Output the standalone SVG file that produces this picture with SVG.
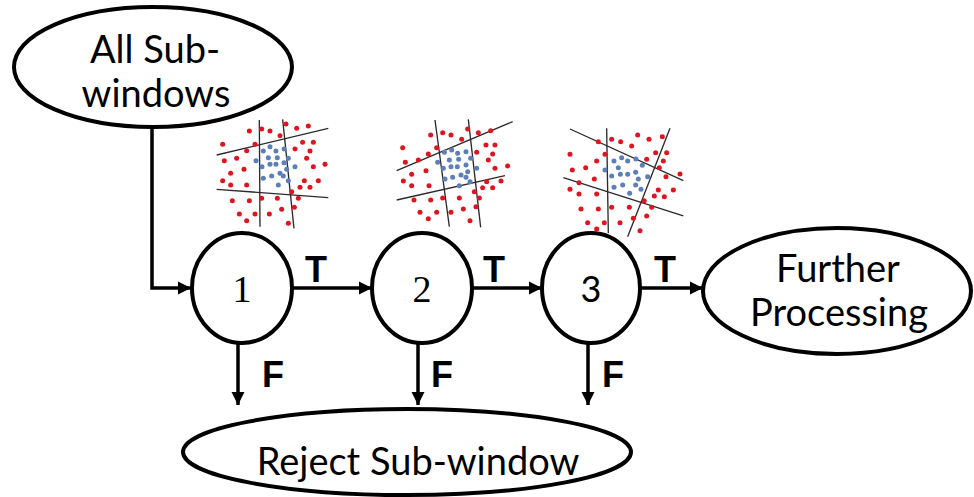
<svg xmlns="http://www.w3.org/2000/svg" width="974" height="497" viewBox="0 0 974 497">
  <style>
    .node { fill: #fff; stroke: #000; stroke-width: 4; }
    .lbl { font-family: Lato, "Liberation Sans", sans-serif; font-size: 38px; fill: #000; text-anchor: middle; }
    .num { font-family: "Liberation Serif", serif; font-size: 38px; fill: #000; text-anchor: middle; }
    .num-sans { font-family: Lato, "Liberation Sans", sans-serif; font-size: 36px; fill: #000; text-anchor: middle; }
    .tf { font-family: "Liberation Sans", Arial, sans-serif; font-weight: bold; font-size: 36px; fill: #000; }
    .edge { fill: none; stroke: #000; stroke-width: 3.5; marker-end: url(#arrow); }
    .r circle { fill: #e0141e; r: 7.5px; }
    .b circle { fill: #5b7fba; r: 7.5px; }
    .sep { stroke: #2a2a2a; stroke-width: 4; fill: none; }
  </style>
  <defs>
    <marker id="arrow" markerUnits="userSpaceOnUse" markerWidth="14" markerHeight="14" refX="13" refY="7" orient="auto">
      <path d="M0,0.5 L13,7 L0,13.5 Z" fill="#000"/>
    </marker>
  </defs>

  <rect width="974" height="497" fill="#fff"/>

  <!-- connectors and their T / F labels -->
  <g id="connectors">
    <path class="edge" d="M152,128 V288 H191"/>
    <path class="edge" d="M292,288 H372"/>
    <path class="edge" d="M472,288 H542"/>
    <path class="edge" d="M640,288 H703"/>
    <path class="edge" d="M238,342 V405"/>
    <path class="edge" d="M418,343 V405"/>
    <path class="edge" d="M588,343 V405"/>
    <text class="tf" x="305" y="282">T</text>
    <text class="tf" x="483" y="282">T</text>
    <text class="tf" x="654" y="282">T</text>
    <text class="tf" x="262" y="387" font-size="33">F</text>
    <text class="tf" x="431" y="387" font-size="33">F</text>
    <text class="tf" x="602" y="387" font-size="33">F</text>
  </g>

  <g id="all-subwindows">
    <ellipse class="node" cx="153" cy="67" rx="139" ry="60"/>
    <text class="lbl" x="155" y="63">All Sub-</text>
    <text class="lbl" x="156" y="107">windows</text>
  </g>

  <g id="stage-1">
    <ellipse class="node" cx="242" cy="288" rx="50" ry="55"/>
    <text class="num" x="242" y="302">1</text>
  </g>
  <g id="stage-2">
    <ellipse class="node" cx="422" cy="288" rx="50" ry="55"/>
    <text class="num" x="422" y="302">2</text>
  </g>
  <g id="stage-3">
    <ellipse class="node" cx="591" cy="288" rx="49" ry="55"/>
    <text class="num-sans" x="591" y="302">3</text>
  </g>

  <g id="further-processing">
    <ellipse class="node" cx="837" cy="291" rx="134" ry="63"/>
    <text class="lbl" x="838" y="282">Further</text>
    <text class="lbl" x="839" y="326">Processing</text>
  </g>

  <g id="reject">
    <ellipse class="node" cx="407" cy="452" rx="224" ry="43"/>
    <text class="lbl" x="418" y="475" font-size="36">Reject Sub-window</text>
  </g>

  <!-- scatter 1 -->
  <g id="scatter-1" transform="translate(200,110) scale(0.3333)">
    <line class="sep" x1="178" y1="30" x2="180" y2="350"/>
    <line class="sep" x1="248" y1="28" x2="282" y2="355"/>
    <line class="sep" x1="50" y1="135" x2="385" y2="55"/>
    <line class="sep" x1="50" y1="238" x2="385" y2="263"/>
    <g class="r">
      <circle cx="148" cy="63"/><circle cx="185" cy="57"/><circle cx="210" cy="63"/><circle cx="258" cy="42"/>
      <circle cx="290" cy="55"/><circle cx="325" cy="48"/><circle cx="240" cy="77"/><circle cx="68" cy="103"/>
      <circle cx="165" cy="103"/><circle cx="140" cy="122"/><circle cx="308" cy="97"/><circle cx="340" cy="97"/>
      <circle cx="285" cy="117"/><circle cx="330" cy="123"/><circle cx="73" cy="152"/><circle cx="110" cy="145"/>
      <circle cx="320" cy="145"/><circle cx="340" cy="170"/><circle cx="375" cy="163"/><circle cx="132" cy="178"/>
      <circle cx="92" cy="190"/><circle cx="68" cy="212"/><circle cx="92" cy="225"/><circle cx="140" cy="225"/>
      <circle cx="313" cy="212"/><circle cx="355" cy="212"/><circle cx="300" cy="232"/><circle cx="330" cy="232"/>
      <circle cx="275" cy="245"/><circle cx="97" cy="272"/><circle cx="148" cy="272"/><circle cx="185" cy="265"/>
      <circle cx="232" cy="265"/><circle cx="295" cy="265"/><circle cx="245" cy="298"/><circle cx="283" cy="292"/>
      <circle cx="118" cy="312"/><circle cx="165" cy="312"/><circle cx="208" cy="312"/><circle cx="140" cy="332"/>
      <circle cx="265" cy="340"/>
    </g>
    <g class="b">
      <circle cx="190" cy="123"/><circle cx="210" cy="110"/><circle cx="228" cy="123"/><circle cx="252" cy="117"/>
      <circle cx="205" cy="143"/><circle cx="232" cy="143"/><circle cx="265" cy="145"/><circle cx="168" cy="152"/>
      <circle cx="186" cy="170"/><circle cx="210" cy="163"/><circle cx="228" cy="163"/><circle cx="252" cy="158"/>
      <circle cx="285" cy="170"/><circle cx="260" cy="178"/><circle cx="240" cy="190"/><circle cx="190" cy="205"/>
      <circle cx="215" cy="198"/><circle cx="250" cy="198"/><circle cx="265" cy="212"/><circle cx="235" cy="225"/>
    </g>
  </g>

  <!-- scatter 2 -->
  <g id="scatter-2" transform="translate(380,110) scale(0.3333)">
    <line class="sep" x1="165" y1="30" x2="208" y2="350"/>
    <line class="sep" x1="265" y1="28" x2="302" y2="352"/>
    <line class="sep" x1="50" y1="182" x2="398" y2="35"/>
    <line class="sep" x1="50" y1="270" x2="375" y2="197"/>
    <g class="r">
      <circle cx="152" cy="75"/><circle cx="188" cy="68"/><circle cx="213" cy="75"/><circle cx="263" cy="57"/>
      <circle cx="295" cy="68"/><circle cx="332" cy="62"/><circle cx="245" cy="88"/><circle cx="68" cy="113"/>
      <circle cx="170" cy="113"/><circle cx="145" cy="132"/><circle cx="318" cy="105"/><circle cx="345" cy="105"/>
      <circle cx="290" cy="127"/><circle cx="338" cy="132"/><circle cx="76" cy="157"/><circle cx="115" cy="150"/>
      <circle cx="325" cy="150"/><circle cx="345" cy="175"/><circle cx="383" cy="168"/><circle cx="138" cy="182"/>
      <circle cx="95" cy="193"/><circle cx="70" cy="213"/><circle cx="95" cy="227"/><circle cx="147" cy="227"/>
      <circle cx="320" cy="215"/><circle cx="363" cy="213"/><circle cx="308" cy="233"/><circle cx="338" cy="233"/>
      <circle cx="283" cy="245"/><circle cx="102" cy="270"/><circle cx="152" cy="270"/><circle cx="188" cy="264"/>
      <circle cx="238" cy="264"/><circle cx="298" cy="264"/><circle cx="250" cy="297"/><circle cx="288" cy="290"/>
      <circle cx="120" cy="307"/><circle cx="170" cy="307"/><circle cx="213" cy="307"/><circle cx="145" cy="326"/>
      <circle cx="270" cy="332"/>
    </g>
    <g class="b">
      <circle cx="193" cy="127"/><circle cx="215" cy="120"/><circle cx="233" cy="130"/><circle cx="258" cy="125"/>
      <circle cx="208" cy="150"/><circle cx="236" cy="148"/><circle cx="272" cy="145"/><circle cx="173" cy="157"/>
      <circle cx="190" cy="175"/><circle cx="213" cy="170"/><circle cx="232" cy="170"/><circle cx="258" cy="165"/>
      <circle cx="290" cy="175"/><circle cx="263" cy="185"/><circle cx="243" cy="195"/><circle cx="195" cy="207"/>
      <circle cx="218" cy="202"/><circle cx="258" cy="202"/><circle cx="270" cy="215"/><circle cx="238" cy="227"/>
    </g>
  </g>

  <!-- scatter 3 -->
  <g id="scatter-3" transform="translate(555,110) scale(0.3333)">
    <line class="sep" x1="155" y1="55" x2="160" y2="370"/>
    <line class="sep" x1="345" y1="55" x2="218" y2="380"/>
    <line class="sep" x1="45" y1="57" x2="385" y2="212"/>
    <line class="sep" x1="25" y1="203" x2="385" y2="318"/>
    <g class="r">
      <circle cx="130" cy="95"/><circle cx="170" cy="88"/><circle cx="197" cy="95"/><circle cx="248" cy="75"/>
      <circle cx="282" cy="88"/><circle cx="322" cy="80"/><circle cx="230" cy="108"/><circle cx="45" cy="133"/>
      <circle cx="150" cy="133"/><circle cx="125" cy="153"/><circle cx="302" cy="128"/><circle cx="335" cy="128"/>
      <circle cx="275" cy="148"/><circle cx="325" cy="153"/><circle cx="52" cy="180"/><circle cx="92" cy="173"/>
      <circle cx="313" cy="173"/><circle cx="333" cy="200"/><circle cx="375" cy="192"/><circle cx="118" cy="207"/>
      <circle cx="72" cy="218"/><circle cx="45" cy="238"/><circle cx="72" cy="252"/><circle cx="125" cy="252"/>
      <circle cx="310" cy="240"/><circle cx="355" cy="240"/><circle cx="298" cy="258"/><circle cx="328" cy="260"/>
      <circle cx="268" cy="272"/><circle cx="78" cy="297"/><circle cx="130" cy="297"/><circle cx="170" cy="292"/>
      <circle cx="223" cy="292"/><circle cx="290" cy="292"/><circle cx="235" cy="325"/><circle cx="275" cy="318"/>
      <circle cx="98" cy="338"/><circle cx="148" cy="338"/><circle cx="195" cy="338"/><circle cx="125" cy="357"/>
      <circle cx="255" cy="362"/>
    </g>
    <g class="b">
      <circle cx="177" cy="153"/><circle cx="200" cy="143"/><circle cx="218" cy="153"/><circle cx="243" cy="147"/>
      <circle cx="190" cy="173"/><circle cx="218" cy="193"/><circle cx="262" cy="166"/><circle cx="150" cy="180"/>
      <circle cx="170" cy="198"/><circle cx="196" cy="193"/><circle cx="242" cy="187"/><circle cx="250" cy="207"/>
      <circle cx="278" cy="200"/><circle cx="258" cy="238"/><circle cx="177" cy="232"/><circle cx="203" cy="225"/>
      <circle cx="242" cy="225"/><circle cx="224" cy="250"/>
    </g>
  </g>
</svg>
